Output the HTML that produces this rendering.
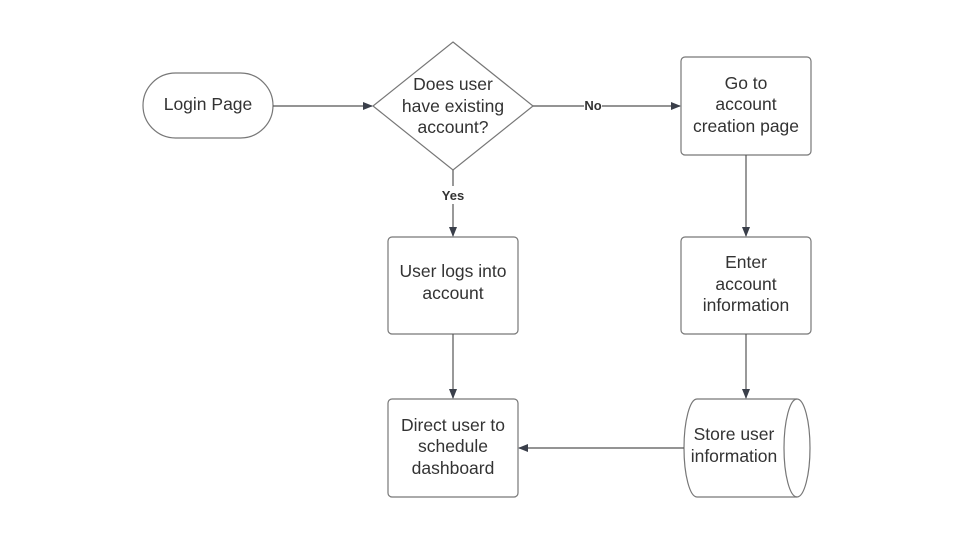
<!DOCTYPE html>
<html><head><style>body{margin:0;background:#fff}svg{display:block}</style></head><body>
<svg width="960" height="540" viewBox="0 0 960 540" xmlns="http://www.w3.org/2000/svg" font-family="Liberation Sans, sans-serif" font-size="17.5" fill="#333">
<defs><marker id="a" markerWidth="10" markerHeight="10" refX="9" refY="5" orient="auto" markerUnits="userSpaceOnUse"><path d="M0,1 L10,5 L0,9 Z" fill="#3a3f4a"/></marker></defs>
<g stroke="#777" stroke-width="1.2" fill="#fff">
<rect x="143" y="73" width="130" height="65" rx="32.5"/>
<polygon points="453,42 533,106 453,170 373,106"/>
<rect x="681" y="57" width="130" height="98" rx="4"/>
<rect x="388" y="237" width="130" height="97" rx="4"/>
<rect x="681" y="237" width="130" height="97" rx="4"/>
<rect x="388" y="399" width="130" height="98" rx="4"/>
<path d="M697,399 L797,399 A13,49 0 0 1 797,497 L697,497 A13,49 0 0 1 697,399 Z"/>
<path d="M797,399 A13,49 0 0 0 797,497" fill="none"/>
</g>
<g stroke="#555" stroke-width="1.2" fill="none" marker-end="url(#a)">
<line x1="273" y1="106" x2="372" y2="106"/>
<line x1="533" y1="106" x2="680" y2="106"/>
<line x1="453" y1="170" x2="453" y2="236"/>
<line x1="746" y1="155" x2="746" y2="236"/>
<line x1="453" y1="334" x2="453" y2="398"/>
<line x1="746" y1="334" x2="746" y2="398"/>
<line x1="684" y1="448" x2="519" y2="448"/>
</g>
<rect x="584" y="98" width="18" height="16" fill="#fff"/>
<rect x="438" y="186" width="30" height="18" fill="#fff"/>
<g font-weight="bold" font-size="13" text-anchor="middle" fill="#333">
<text x="593" y="110">No</text>
<text x="453" y="200">Yes</text>
</g>
<g text-anchor="middle">
<text x="208" y="110">Login Page</text>
<text x="453" y="90">Does user</text><text x="453" y="112">have existing</text><text x="453" y="133">account?</text>
<text x="746" y="89">Go to</text><text x="746" y="110">account</text><text x="746" y="132">creation page</text>
<text x="453" y="277">User logs into</text><text x="453" y="299">account</text>
<text x="746" y="268">Enter</text><text x="746" y="290">account</text><text x="746" y="311">information</text>
<text x="453" y="431">Direct user to</text><text x="453" y="452">schedule</text><text x="453" y="474">dashboard</text>
<text x="734" y="440">Store user</text><text x="734" y="462">information</text>
</g>
</svg>
</body></html>
